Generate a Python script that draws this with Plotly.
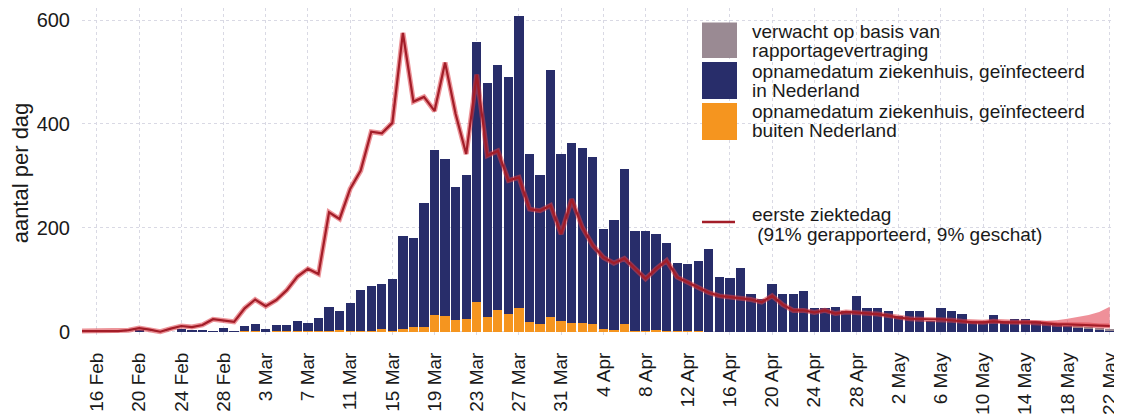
import pandas as pd
import plotly.graph_objects as go

# ---- data ----
dagen = pd.date_range("2020-02-14", "2020-05-22", freq="D")

# opnamedatum ziekenhuis, geinfecteerd buiten Nederland
buiten_nl = (
    [0] * 16
    + [1, 1, 0, 1, 1, 1, 1, 1, 2, 3, 2, 2, 2, 6, 2, 6, 10, 10, 32, 30, 22, 24, 58, 29, 42, 35, 45, 18, 15, 29, 20]
    + [17, 17, 15, 5, 4, 15, 2, 2, 3, 1, 1, 1, 1] + [0] * 17
    + [0] * 22
)

# opnamedatum ziekenhuis, geinfecteerd in Nederland
in_nl = (
    [0, 0, 0, 0, 0, 0, 2, 0, 0, 0, 6, 2, 2, 1, 8, 1]
    + [10, 13, 6, 12, 12, 19, 16, 25, 46, 37, 53, 79, 86, 86, 99, 179, 170, 237, 317, 303, 257, 277,
       500, 450, 472, 455, 563, 324, 286, 474, 323]
    + [346, 336, 322, 192, 211, 298, 191, 191, 185, 170, 132, 129, 136, 160, 106, 103, 122, 73, 63, 91,
       73, 73, 79, 45, 45, 47, 39, 68, 46, 46]
    + [39, 30, 40, 40, 21, 46, 40, 34, 21, 21, 32, 21, 24, 24, 21, 17, 14, 11, 9, 6, 5, 2]
)

# verwacht op basis van rapportagevertraging
verwacht = [0] * 95 + [1, 2, 2, 3]

# eerste ziektedag
ziektedag = (
    [1, 1, 1, 2, 1, 3, 7, 4, 0, 6, 11, 9, 13, 24, 22, 19]
    + [45, 62, 49, 61, 80, 106, 121, 111, 230, 217, 275, 310, 385, 382, 402, 575, 443, 452, 425, 518,
       419, 342, 495, 339, 348, 291, 297, 236, 233, 243, 188]
    + [255, 201, 166, 143, 132, 141, 122, 102, 121, 137, 105, 95, 84, 75, 69, 67, 65, 62, 57, 69,
       52, 41, 41, 37, 41, 35, 38, 37, 35, 34]
    + [31, 27, 25, 24, 24, 24, 22, 20, 18, 18, 20, 18, 18, 18, 18, 16, 14, 14, 13, 13, 11, 11]
)

# onzekerheidsband eerste ziektedag (laatste dagen)
band_dagen = pd.date_range("2020-05-08", "2020-05-22", freq="D")
band_laag = [18, 16, 16, 18, 16, 16, 16, 16, 14, 12, 12, 11, 10, 9, 8]
band_hoog = [22, 21, 21, 23, 21, 21, 22, 22, 21, 22, 25, 28, 32, 38, 48]

tick_dagen = pd.date_range("2020-02-16", "2020-05-22", freq="4D")
tick_labels = ["16 Feb", "20 Feb", "24 Feb", "28 Feb", "3 Mar", "7 Mar", "11 Mar", "15 Mar", "19 Mar",
               "23 Mar", "27 Mar", "31 Mar", "4 Apr", "8 Apr", "12 Apr", "16 Apr", "20 Apr", "24 Apr",
               "28 Apr", "2 May", "6 May", "10 May", "14 May", "18 May", "22 May"]

# ---- style ----
NAVY = "#282d6a"
ORANJE = "#f5951f"
GRIJS = "#9a8a93"
ROOD = "#a31d28"
FONT = "Liberation Sans, Arial, sans-serif"

# page body has a default 8px margin, so the figure is drawn 8px smaller
OFF = 8
W, H = 1122 - OFF, 420 - OFF
# plot area in screen pixels
L, R, T, B = 82, 1115, 8, 338


def px(x):
    return (x - L) / (R - L)


def py(y):
    return (B - y) / (B - T)


fig = go.Figure()

fig.add_trace(go.Bar(x=dagen, y=buiten_nl, marker_color=ORANJE, marker_line_width=0))
fig.add_trace(go.Bar(x=dagen, y=in_nl, marker_color=NAVY, marker_line_width=0))
fig.add_trace(go.Bar(x=dagen, y=verwacht, marker_color=GRIJS, marker_line_width=0))

# band
fig.add_trace(go.Scatter(x=band_dagen, y=band_laag, mode="lines", line=dict(width=0),
                         hoverinfo="skip"))
fig.add_trace(go.Scatter(x=band_dagen, y=band_hoog, mode="lines", line=dict(width=0),
                         fill="tonexty", fillcolor="rgba(228,70,85,0.6)", hoverinfo="skip"))

# lijn met lichte rand
fig.add_trace(go.Scatter(x=dagen, y=ziektedag, mode="lines",
                         line=dict(color="rgba(220,60,70,0.55)", width=5), hoverinfo="skip"))
fig.add_trace(go.Scatter(x=dagen, y=ziektedag, mode="lines",
                         line=dict(color=ROOD, width=2.2)))

# ---- handmatige legenda ----
shapes = []
annotations = []
for kleur, (y0, y1) in [(GRIJS, (22.5, 58)), (NAVY, (62, 99)), (ORANJE, (103, 140))]:
    shapes.append(dict(type="rect", xref="paper", yref="paper",
                       x0=px(702), x1=px(737), y0=py(y1), y1=py(y0),
                       fillcolor=kleur, line=dict(width=0), layer="above"))
shapes.append(dict(type="line", xref="paper", yref="paper",
                   x0=px(702), x1=px(735), y0=py(222), y1=py(222),
                   line=dict(color=ROOD, width=2.5), layer="above"))

legend_regels = [
    ("verwacht op basis van", 31),
    ("rapportagevertraging", 51),
    ("opnamedatum ziekenhuis, geïnfecteerd", 71),
    ("in Nederland", 90),
    ("opnamedatum ziekenhuis, geïnfecteerd", 111),
    ("buiten Nederland", 130),
    ("eerste ziektedag", 214),
    (" (91% gerapporteerd, 9% geschat)", 234),
]
for tekst, yy in legend_regels:
    annotations.append(dict(text=tekst, xref="paper", yref="paper", x=px(750), y=py(yy),
                            xanchor="left", yanchor="middle", showarrow=False,
                            font=dict(family=FONT, size=19, color="#1a1a1a")))

fig.update_layout(
    width=W, height=H,
    margin=dict(l=L - OFF, r=W - (R - OFF), t=T - OFF, b=H - (B - OFF), autoexpand=False),
    paper_bgcolor="white", plot_bgcolor="white",
    barmode="stack", bargap=0.12,
    showlegend=False,
    font=dict(family=FONT, color="#1a1a1a"),
    shapes=shapes, annotations=annotations,
)

fig.update_xaxes(
    range=["2020-02-14 14:00", "2020-05-22 12:00"],
    tickvals=tick_dagen, ticktext=tick_labels, tickangle=-90,
    tickfont=dict(size=19),
    ticks="outside", ticklen=6, tickcolor="rgba(0,0,0,0)",
    showgrid=True, gridcolor="#d9d9e4", griddash="dot", gridwidth=1,
    zeroline=False, showline=False,
)
fig.update_yaxes(
    range=[-12.1, 623.1],
    tickvals=[0, 200, 400, 600],
    tickfont=dict(size=20),
    ticks="outside", ticklen=7, tickcolor="rgba(0,0,0,0)",
    showgrid=True, gridcolor="#d9d9e4", griddash="dot", gridwidth=1,
    zeroline=False, showline=False,
    title=dict(text="aantal per dag", font=dict(size=22), standoff=9),
)

fig.write_html("out.html")
